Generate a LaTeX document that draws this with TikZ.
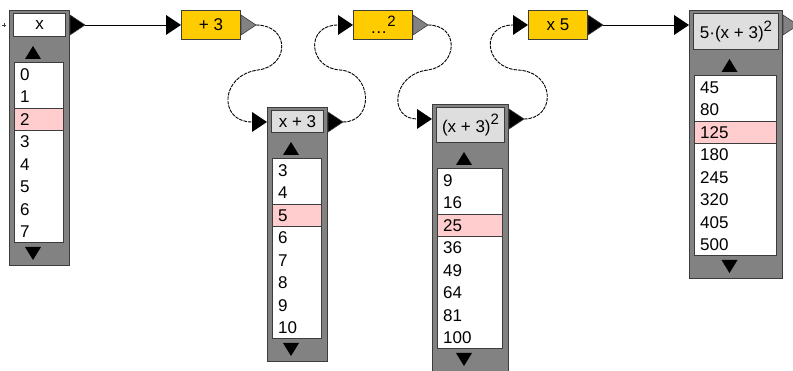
\documentclass[tikz,border=0pt]{standalone}
\usepackage{fontspec}
\setmainfont{Liberation Sans}
\usetikzlibrary{calc}

\definecolor{panelgray}{RGB}{130,130,130}
\definecolor{edgegray}{RGB}{60,60,60}
\definecolor{headgray}{RGB}{222,222,222}
\definecolor{pickrow}{RGB}{255,205,205}
\definecolor{opfill}{RGB}{255,204,0}

\newcommand{\cellfont}{\fontsize{17}{17}\selectfont}
\newcommand{\sq}{\raisebox{0.42em}{\fontsize{15}{15}\selectfont 2}}

% #1 name, #2 left, #3 top, #4 width, #5 header height,
% #6 header fill, #7 header text, #8 values, #9 picked row
\newcommand{\valuetable}[9]{%
  \pgfmathsetmacro{\tbRgt}{#2+#4}
  \pgfmathsetmacro{\tbHbot}{#3+3+#5}
  \pgfmathsetmacro{\tbLtop}{\tbHbot+27}
  \pgfmathsetmacro{\tbLbot}{\tbLtop+180}
  \pgfmathsetmacro{\tbBtm}{\tbLbot+22}
  \pgfmathsetmacro{\tbMidx}{#2+#4/2-6}
  \pgfmathsetmacro{\tbHW}{#4-8}
  \node[panel, minimum width=#4pt, minimum height=\tbBtm pt-#3pt] (#1) at (#2,#3) {};
  \node[headbox, fill=#6, minimum width=\tbHW pt, minimum height=#5pt] (#1-head) at (#2+4,#3+3) {#7};
  % arrows
  \fill (\tbMidx-8,\tbLtop-4) -- (\tbMidx+8,\tbLtop-4) -- (\tbMidx,\tbLtop-17) -- cycle;
  \fill (\tbMidx-8,\tbLbot+4) -- (\tbMidx+8,\tbLbot+4) -- (\tbMidx,\tbLbot+17) -- cycle;
  % value list
  \fill[white] (#2+5,\tbLtop) rectangle (\tbRgt-6,\tbLbot);
  \fill[pickrow] (#2+5,\tbLtop+22.5*#9) rectangle (\tbRgt-6,\tbLtop+22.5*#9+22.5);
  \draw[edgegray] (#2+5,\tbLtop+22.5*#9) -- (\tbRgt-6,\tbLtop+22.5*#9)
    (#2+5,\tbLtop+22.5*#9+22.5) -- (\tbRgt-6,\tbLtop+22.5*#9+22.5);
  \draw[edgegray, line width=1pt] (#2+5,\tbLtop) rectangle (\tbRgt-6,\tbLbot);
  \foreach \v [count=\i from 0] in {#8}
    \node[cell] at (#2+11,\tbLtop+22.5*\i+11.25) {\v};
}

% #1 name, #2 box, #3 colour
\newcommand{\outport}[3]{%
  \filldraw[fill=#3, draw=edgegray, line width=0.6pt, line join=round]
    ($(#2.north east)+(0,5)$) -- ++(15,10) -- ++(-15,10) -- cycle;
  \coordinate (#1) at ($(#2.north east)+(15,15)$);
}
% #1 name, #2 box
\newcommand{\inport}[2]{%
  \fill ($(#2.north west)+(-15,5)$) -- ++(15,10) -- ++(-15,10) -- cycle;
  \coordinate (#1) at ($(#2.north west)+(-15,15)$);
}

\begin{document}
\begin{tikzpicture}[x=1pt, y=-1pt,
  panel/.style={fill=panelgray, draw=edgegray, line width=1pt, inner sep=0pt, anchor=north west},
  headbox/.style={draw=edgegray, line width=1pt, inner sep=0pt, anchor=north west, font=\cellfont},
  opbox/.style={fill=opfill, draw=edgegray, line width=1pt, minimum width=59pt,
    minimum height=29pt, inner sep=0pt, anchor=north west, font=\cellfont},
  cell/.style={anchor=west, inner sep=0pt, font=\cellfont},
  wire/.style={line width=0.9pt},
  loopwire/.style={wire, dash pattern=on 3.5pt off 1pt}]
  \useasboundingbox (0,0) rectangle (793,371);

  % tables
  \valuetable{t1}{9}{10}{60}{23}{white}{x}{0,1,2,3,4,5,6,7}{2}
  \valuetable{t2}{267}{107}{60}{22}{headgray}{x + 3}{3,4,5,6,7,8,9,10}{2}
  \valuetable{t3}{432}{104}{76}{35}{headgray}{(x + 3)\sq}{9,16,25,36,49,64,81,100}{2}
  \valuetable{t4}{689}{10}{93}{36}{headgray}{5·(x + 3)\sq}{45,80,125,180,245,320,405,500}{2}

  % operations
  \node[opbox] (op1) at (181,10) {+ 3};
  \node[opbox] (op2) at (353,10) {\ldots\sq};
  \node[opbox] (op3) at (528,10) {x 5};

  % ports
  \draw[edgegray, line width=0.6pt] (2,25) -- (6,25) (4,23) -- (4,27);
  \outport{t1-out}{t1}{black}
  \inport{op1-in}{op1}
  \outport{op1-out}{op1}{panelgray}
  \inport{t2-in}{t2}
  \outport{t2-out}{t2}{black}
  \inport{op2-in}{op2}
  \outport{op2-out}{op2}{panelgray}
  \inport{t3-in}{t3}
  \outport{t3-out}{t3}{black}
  \inport{op3-in}{op3}
  \outport{op3-out}{op3}{black}
  \inport{t4-in}{t4}
  \outport{t4-out}{t4}{panelgray}

  % wires
  \draw[wire] (t1-out) -- (op1-in);
  \draw[loopwire] (op1-out) .. controls (290,25) and (290,66) .. (258,70)
    .. controls (220,75) and (218,122) .. (t2-in);
  \draw[loopwire] (t2-out) .. controls (375,122) and (372,72) .. (340,70)
    .. controls (308,68) and (305,25) .. (op2-in);
  \draw[loopwire] (op2-out) .. controls (460,25) and (458,66) .. (428,70)
    .. controls (392,74) and (388,119) .. (t3-in);
  \draw[loopwire] (t3-out) .. controls (556,119) and (556,72) .. (518,70)
    .. controls (484,68) and (480,25) .. (op3-in);
  \draw[wire] (op3-out) -- (t4-in);
\end{tikzpicture}
\end{document}
